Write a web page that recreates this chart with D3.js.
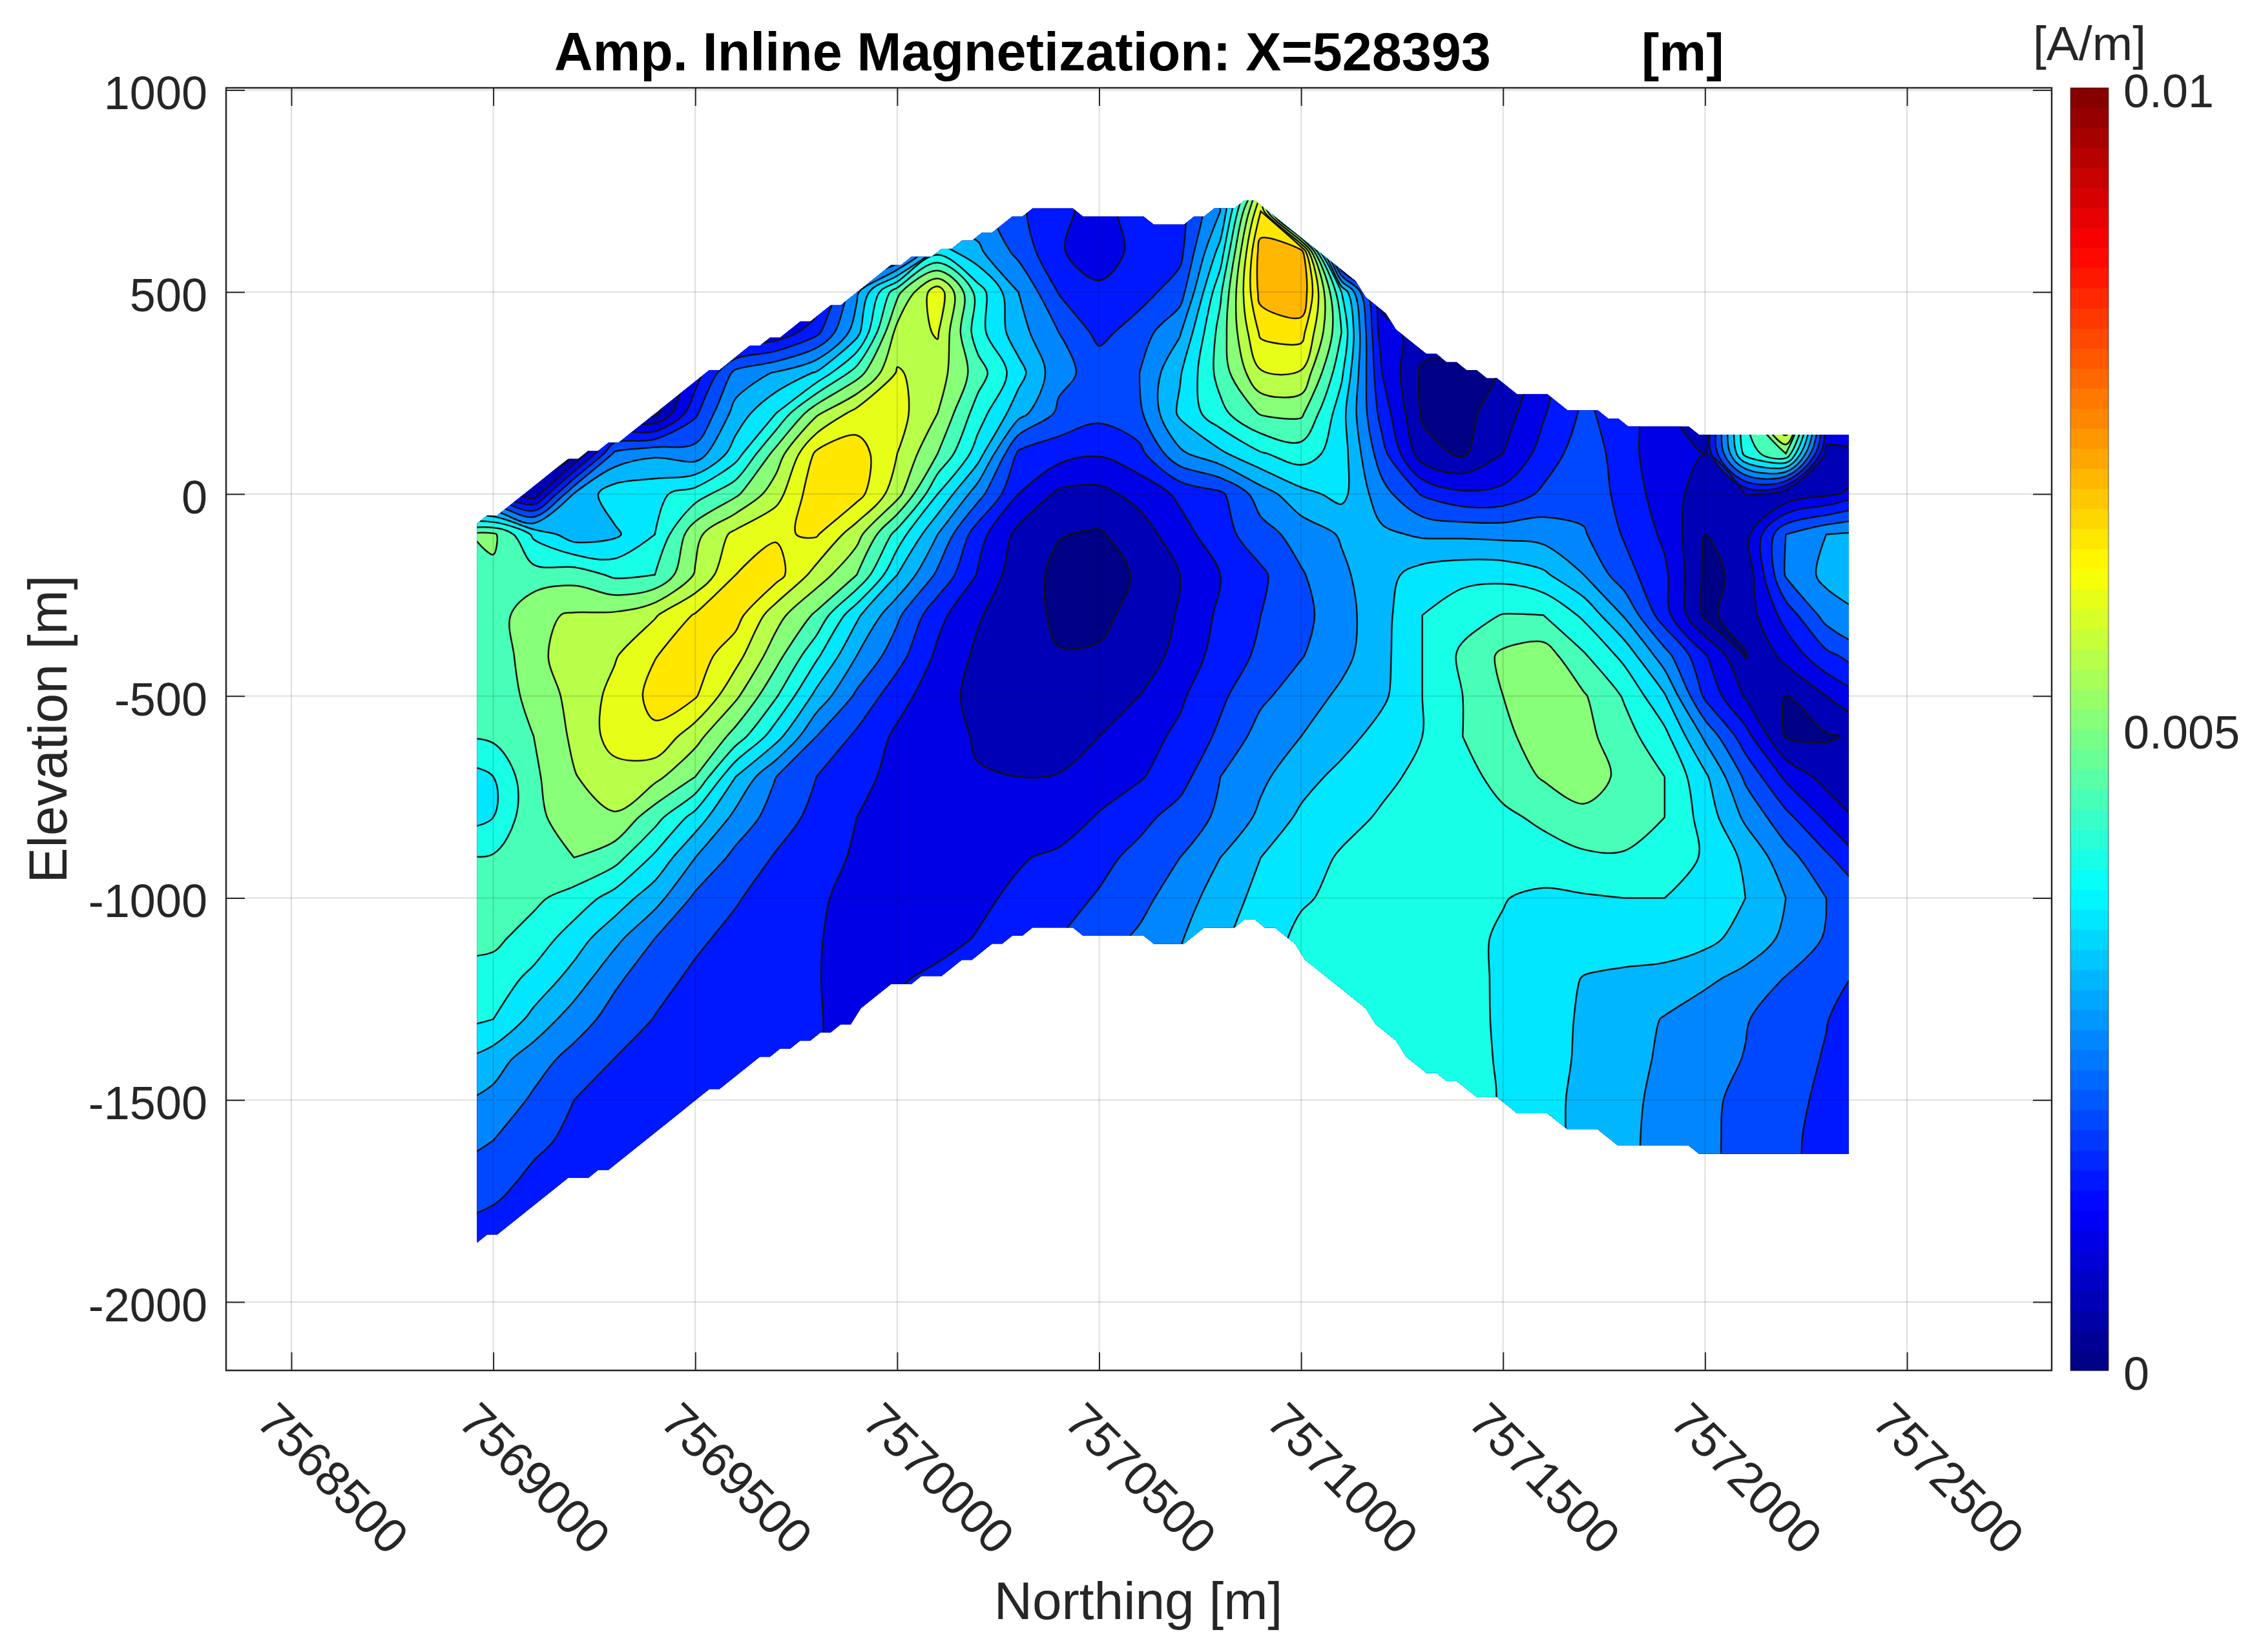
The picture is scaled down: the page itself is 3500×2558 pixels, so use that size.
<!DOCTYPE html>
<html><head><meta charset="utf-8">
<script src="https://cdn.jsdelivr.net/npm/d3@7"></script>
<style>
html,body{margin:0;padding:0;background:#fff}
text{font-family:"Liberation Sans",Arial,sans-serif;fill:#262626}
</style></head><body><svg id="c" width="3500" height="2558" xmlns="http://www.w3.org/2000/svg"></svg>
<script>
// ---------- data ----------
const xTicks=[7568500,7569000,7569500,7570000,7570500,7571000,7571500,7572000,7572500];
const yTicks=[-2000,-1500,-1000,-500,0,500,1000];
const cbTicks=[0,0.005,0.01];
const cbLabels=["0","0.005","0.01"];
// contour levels, in 1e-4 A/m
const levels=[5,10,15,20,25,30,35,40,45,50,55,60,65,70,75];
// grid nodes
const gridNorthing=d3.range(7568900,7572401,100);
const gridElevation=d3.range(800,-1901,-100);
// amplitude in 1e-4 A/m: one row per elevation (800 m at the top), one value per northing
const amplitude=[
[15,15,15,15,15,15,15,15,15,15,15,15,25,27,21,17,14,17,18,28,50,5,5,5,5,5,5,5,5,5,5,5,5,5,5,5],
[15,15,15,15,15,15,15,15,15,15,15,15,22,27,21,16,13.5,17,18,30,65,5,5,5,5,5,5,5,5,5,5,5,5,5,5,5],
[15,15,15,15,15,15,15,15,15,15,15,15,38,31,23.5,15.5,12.5,16.5,18.5,37,72.5,73,3,8,8,8,8,8,8,8,8,8,8,8,8,8],
[10,10,10,10,10,10,10,10,10,10,29,48.5,63.5,42.5,30,19.7,16,18,22.5,44,72,75,40,8,8,8,8,10,12,12,10,8,10,10,10,10],
[5,5,5,5,5,5,5,8,11,18.5,33,57,60.5,42,32,25,18.5,22.5,29.5,47,66,67,45,12,8,8,8,10,14,12,10,8,14,30,14,22],
[3,3,3,3,3,3,12,26.5,30.5,35.5,47.5,60.5,57.5,47.5,37,26.5,23,25,34.5,47,59.5,59.5,41,15,4,3,5.5,12,20,15,10,8,30,60,14,22],
[5,5,5,5,4,3.5,19,32,40,54,62,62,55,42.5,32,24,21.5,24,36,43.5,50.5,51,37,18,4.3,3.5,7.5,14.5,21,17.5,10.5,8,44,72,14,22],
[5,4,3,3,26,29,27,37.5,52,66,67.5,60,50,37.5,19,17,15.5,18.5,29,34,39.5,42.5,37.5,22,7,4.2,10,17,23,17.5,10.8,10,42,50,9,7],
[15,15,6.5,30.5,38,38.7,42.5,49,58,68.5,67,57,40,27,15,9,8.5,11.7,16,19,27.5,33.5,36.5,27,19.5,16,16.5,21,23,18.5,12,8,10,5.5,9,12],
[49,51,39,32,34,40,53.5,61.5,64.5,65.5,57,43,30,17,8.5,5.2,4.5,7.5,13,18,23,27,30.5,31,29.3,29,28.5,28,25.5,19.5,14,5,8,25,30,31],
[49,49,47,48,44,45,55.5,65,67,58,50,35,24,14.5,7,4,4,5.3,10,15,19,24.5,29,33.3,37,38.5,38.5,36,30,22,16,4,6,25.5,31.5,33],
[46.5,47,54,55.5,56,59.5,65.5,67,57,49,36,26,16.5,10.5,6.7,4.3,4,6.5,10.5,16,20,23.5,28,33.2,40,43,45.2,45,39,29.5,17,4,7,17,27,30],
[46,46.5,53.3,58,59.5,64.8,67.5,62,52,41,30,22,14,9,6.5,5.2,5.5,7,11.8,17,21,24.7,28.5,33.5,40,46,51,52.5,45.6,38.5,27,15.5,4.7,11.5,18.7,23],
[45.5,46,52,56.5,61.5,66.5,65.5,56,45.5,33.5,24,17,12,8.5,7,6,6,10,14.2,19,24,27.5,31,34,40,45,50,52.5,50.5,44.5,35.5,19,9.5,5,10,15],
[45.3,46,50,56,62,64,57,48,37,25,19,14,12,9.5,8,8,10,13,16,21,27,30,33,37,40,45,49,52,51.5,47,41.5,29,17,4.5,4.5,6],
[36,40,49,54.7,58,56.5,50,35,25,20,16.5,13.5,12,10.3,10,10.2,12,14.5,18,25,29,33,36.5,39,41,43,47,50.5,52,49,45,36,24,14,8,7],
[36,40,49,52,54.5,47,38,28.5,22.5,18.5,15,13.5,12.5,12,12,12,15.5,18.5,22,26,31,36,38.5,40.5,41.5,42.5,44,46,49,47.5,45,38,29,21.5,14,8],
[45.5,45.5,48,50,47,39,30,23.5,19.5,16.5,14.5,14,14,14,14.5,16,18.5,21.5,25,30,35,38,40.5,41,41.5,42,42.5,43,44,44.5,42.5,39.5,34,27,21,14],
[47,46.5,46,43,38,32,24,20.5,17.5,15.5,14,13,13,14,16,18,20.5,23.5,27.5,32.5,36.5,39.5,41,41.5,41.5,41,40.2,39,39.5,40,40,38.5,35,30,25,21],
[46,46,43,37.5,31.5,25,21,18.5,17,15.3,13.5,13,13.5,15.3,17.8,20,23,25.8,29.6,34,38,41,42,42,41.5,41,39.5,37.5,37,37.5,38,36.5,33,29,24.5,21.5],
[43.5,43,38.5,33,26,21.8,19,17.8,16.5,15.2,13.5,14.5,16,18,20,22,25,27,31,35,39,41.5,43,43,42,41,39.5,37,34.8,34,33,31,28.5,24.7,21.5,19],
[41,40,33.5,27.5,23,19.8,18.5,17.5,16.4,15.2,14,16,17,18,20,22,24,27,30,34,37,40,42,43,42.5,41.5,39.3,36.8,34.4,32.2,29.7,27.3,25.3,22.7,20.2,17],
[36,32.3,27.2,23.2,19.9,18.7,18,17.3,16.2,15.1,14.5,16,17,18,20,22,24,27,30,34,37,40,42,43,43,41.5,39.5,36.8,34.2,31.5,29.3,26.7,24.8,22,19.6,15.5],
[31,28.5,24.2,20,18.7,18,17.5,17,16,15,14.5,16,17,18,20,22,24,27,30,34,37,40,42,43,43,41,39.8,36.5,33.8,31.2,28.7,26,23.8,21.4,19,15],
[26.5,25,21,19,18,17.5,17,16.5,16,15,14.5,16,17,18,20,22,24,27,30,34,37,40,42,43,43,41,39.3,36.6,33.7,31,28.5,26,23.5,21,18.5,15],
[23.5,21.5,19,17.5,17,16.5,16,16,16,15,14.5,16,17,18,20,22,24,27,30,34,37,40,42,43,43,41,39.3,36.6,33.7,31,28.5,26,23.5,21,18.5,15],
[19.5,19,17.5,16.5,16,16,16,16,16,15,14.5,16,17,18,20,22,24,27,30,34,37,40,42,43,43,41,39.3,36.6,33.7,31,28.5,26,23.5,21,18.5,15],
[18,18,17,16.5,16,16,16,16,16,15,14.5,16,17,18,20,22,24,27,30,34,37,40,42,43,43,41,39.3,36.6,33.7,31,28.5,26,23.5,21,18.5,15]
];
// upper and lower limits of the section
const topNorthing=[7568960,7569033,7569162,7569346,7569517,7569652,7569698,7569845,7569955,7569997,7570060,7570120,7570175,7570218,7570298,7570334,7570438,7570456,7570616,7570633,7570720,7570774,7570841,7570866,7570885,7570922,7570982,7571044,7571062,7571118,7571155,7571216,7571290,7571344,7571411,7571484,7571534,7571598,7571653,7571709,7571790,7571800,7571960,7571978,7572356];
const topElevation=[-75,-38,67,149,287,369,388,465,545,568,587,606,627,647,686,706,706,687,687,668,668,706,706,727,720,695,649,606,580,545,499,433,352,347,305,287,251,248,209,205,185,168,168,147,147];
const bottomNorthing=[7568960,7569002,7569106,7569160,7569277,7569405,7569522,7569637,7569790,7569827,7569882,7569955,7569998,7570102,7570212,7570299,7570341,7570440,7570458,7570621,7570642,7570712,7570774,7570835,7570869,7570957,7571037,7571080,7571117,7571178,7571295,7571338,7571435,7571478,7571533,7571600,7571656,7571710,7571797,7571962,7571981,7572356];
const bottomElevation=[-1848,-1830,-1763,-1711,-1670,-1573,-1490,-1411,-1346,-1330,-1309,-1232,-1212,-1188,-1132,-1093,-1071,-1071,-1090,-1090,-1111,-1109,-1071,-1071,-1052,-1093,-1172,-1212,-1234,-1300,-1429,-1432,-1491,-1493,-1530,-1534,-1563,-1571,-1611,-1611,-1629,-1629];

// ---------- layout ----------
const L=350,R=3176,T=136,B=2122;
const svg=d3.select("#c");
svg.append("rect").attr("width",3500).attr("height",2558).attr("fill","#fff");
const x=d3.scaleLinear().domain([7568500,7572500]).range([451,2952]);
const y=d3.scaleLinear().domain([-2000,1000]).range([2016,139.4]);
const clamp=v=>Math.max(0,Math.min(1,v));
function jet(v){ // MATLAB-style jet, 64 colours
  const i=Math.min(63,Math.floor(v*64)),u=(i+0.5)/64;
  return d3.rgb(255*clamp(1.5-Math.abs(4*u-3)),255*clamp(1.5-Math.abs(4*u-2)),255*clamp(1.5-Math.abs(4*u-1))).formatRgb();
}
// ---------- section mask ----------
const topAt=d3.scaleLinear().domain(topNorthing).range(topElevation);
const botAt=d3.scaleLinear().domain(bottomNorthing).range(bottomElevation);
const stair=v=>Math.round((v-7)/20)*20+7;
const N0=topNorthing[0],N1=topNorthing[topNorthing.length-1];
const sample=d3.range(N0,N1,25).concat([N1]);
const outline=sample.map(n=>[x(n),y(stair(topAt(n)))]).concat(sample.slice().reverse().map(n=>[x(n),y(stair(botAt(n)))]));
const defs=svg.append("defs");
defs.append("clipPath").attr("id","section").append("path").attr("d",d3.line()(outline)+"Z");

// ---------- filled contours ----------
const nx=gridNorthing.length,ny=gridElevation.length;
const flat=amplitude.flat();
const cx=d3.scaleLinear().domain([0.5,nx-0.5]).range([x(gridNorthing[0]),x(gridNorthing[nx-1])]);
const cy=d3.scaleLinear().domain([0.5,ny-0.5]).range([y(gridElevation[0]),y(gridElevation[ny-1])]);
const ringLine=d3.line().x(p=>cx(p[0])).y(p=>cy(p[1])).curve(d3.curveCatmullRomClosed.alpha(0.5));
const contours=d3.contours().size([nx,ny]).smooth(true).thresholds(levels)(flat);
const pathOf=c=>c.coordinates.map(poly=>poly.map(r=>ringLine(r.slice(0,-1))).join("")).join("");
const plot=svg.append("g").attr("clip-path","url(#section)");
plot.append("rect").attr("x",L).attr("y",T).attr("width",R-L).attr("height",B-T).attr("fill",jet(0));
plot.selectAll("path.band").data(contours).join("path").attr("class","band")
  .attr("d",pathOf).attr("fill",c=>jet(c.value/100)).attr("fill-rule","evenodd");
plot.selectAll("path.line").data(contours).join("path").attr("class","line")
  .attr("d",pathOf).attr("fill","none").attr("stroke","#111").attr("stroke-width",2.5);

// ---------- grid ----------
const grid=svg.append("g").attr("stroke","#000").attr("stroke-opacity",0.13).attr("stroke-width",2);
grid.selectAll("line.v").data(xTicks).join("line").attr("x1",d=>x(d)).attr("x2",d=>x(d)).attr("y1",T).attr("y2",B);
grid.selectAll("line.h").data(yTicks).join("line").attr("y1",d=>y(d)).attr("y2",d=>y(d)).attr("x1",L).attr("x2",R);

// ---------- axes ----------
function style(g){g.select(".domain").remove();g.selectAll("line").attr("stroke","#262626").attr("stroke-width",2);}
svg.append("g").attr("transform",`translate(0,${B})`)
  .call(d3.axisBottom(x).tickValues(xTicks).tickFormat(d=>String(d)).tickSize(-28))
  .call(style)
  .call(g=>g.selectAll("text").attr("font-size",75).attr("fill","#262626").attr("text-anchor","middle")
     .attr("dy","0.35em").attr("y",0).attr("transform","translate(64,167) rotate(45)"));
svg.append("g").attr("transform",`translate(0,${T})`)
  .call(d3.axisTop(x).tickValues(xTicks).tickFormat("").tickSize(-28)).call(style);
svg.append("g").attr("transform",`translate(${L},0)`)
  .call(d3.axisLeft(y).tickValues(yTicks).tickFormat(d=>String(d)).tickSize(-29))
  .call(style)
  .call(g=>g.selectAll("text").attr("font-size",72).attr("fill","#262626").attr("x",-29).attr("dy","0.41em"));
svg.append("g").attr("transform",`translate(${R},0)`)
  .call(d3.axisRight(y).tickValues(yTicks).tickFormat("").tickSize(-29)).call(style);
svg.append("rect").attr("x",L).attr("y",T).attr("width",R-L).attr("height",B-T).attr("fill","none").attr("stroke","#262626").attr("stroke-width",2.5);

// ---------- colour bar ----------
const cbX=3205,cbW=59;
const cbY=d3.scaleLinear().domain([0,0.01]).range([B,T]);
const cells=d3.range(64);
svg.append("g").selectAll("rect").data(cells).join("rect")
  .attr("x",cbX).attr("width",cbW)
  .attr("y",i=>cbY((i+1)/6400)).attr("height",i=>cbY(i/6400)-cbY((i+1)/6400)+0.6)
  .attr("fill",i=>jet((i+0.5)/64));
svg.append("rect").attr("x",cbX).attr("y",T).attr("width",cbW).attr("height",B-T).attr("fill","none").attr("stroke","#262626").attr("stroke-width",1.2).attr("stroke-opacity",0.6);
svg.append("g").attr("transform",`translate(${cbX+cbW},0)`)
  .call(d3.axisRight(cbY).tickValues(cbTicks).tickFormat((d,i)=>cbLabels[i]).tickSize(0).tickPadding(23))
  .call(g=>g.select(".domain").remove())
  .call(g=>g.selectAll("text").attr("font-size",72).attr("fill","#262626").attr("dy","0.41em"));

// ---------- titles ----------
svg.append("text").attr("x",858).attr("y",109).attr("font-size",82.7).attr("font-weight","bold").attr("style","fill:#000").text("Amp. Inline Magnetization: X=528393");
svg.append("text").attr("x",2541).attr("y",109).attr("font-size",82).attr("font-weight","bold").attr("style","fill:#000").text("[m]");
svg.append("text").attr("x",3147).attr("y",93).attr("font-size",75).text("[A/m]");
svg.append("text").attr("x",1762).attr("y",2507).attr("text-anchor","middle").attr("font-size",82).text("Northing [m]");
svg.append("text").attr("transform","translate(103,1129) rotate(-90)").attr("text-anchor","middle").attr("font-size",82.5).text("Elevation [m]");
</script></body></html>
